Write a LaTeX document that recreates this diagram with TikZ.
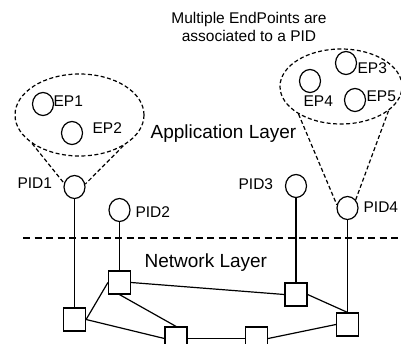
\documentclass[tikz,border=0pt]{standalone}
\usepackage{fontspec}
\setmainfont{Liberation Sans}
\usetikzlibrary{shapes.geometric}
\begin{document}
\begin{tikzpicture}[x=1pt,y=-1pt,
  line width=1.2pt,
  lbl/.style={inner sep=0pt,anchor=base west,font=\fontsize{15.5}{18}\selectfont},
  big/.style={inner sep=0pt,anchor=base west,font=\fontsize{19}{22}\selectfont},
  ep/.style={draw,ellipse,inner sep=0pt,minimum width=21pt,minimum height=23pt},
  router/.style={draw,rectangle,inner sep=0pt,minimum width=22pt,minimum height=23pt},
  group/.style={draw,ellipse,inner sep=0pt,dash pattern=on 4pt off 2.5pt},
  tie/.style={dash pattern=on 4pt off 2.5pt},
  layer/.style={dash pattern=on 7pt off 4.5pt}]
\useasboundingbox (0,0) rectangle (401,343);

% endpoint groups
\node[group,minimum width=129pt,minimum height=82pt] (G1) at (79.5,115) {};
\node[group,minimum width=122pt,minimum height=75pt] (G2) at (341,86.5) {};

% endpoints
\node[ep] (EP1) at (43,104) {};
\node[ep] (EP2) at (72,133) {};
\node[ep] (EP3) at (346,63) {};
\node[ep] (EP4) at (310,81) {};
\node[ep] (EP5) at (355,100) {};
\node[lbl] (tEP1) at (53,106) {EP1};
\node[lbl] (tEP2) at (92,133) {EP2};
\node[lbl] (tEP3) at (357,73) {EP3};
\node[lbl] (tEP4) at (303,106) {EP4};
\node[lbl] (tEP5) at (366,101.5) {EP5};

% PIDs
\node[ep] (PID1) at (74.5,187) {};
\node[ep] (PID2) at (119.5,210) {};
\node[ep] (PID3) at (296,186) {};
\node[ep] (PID4) at (347.5,208) {};
\node[lbl] (tPID1) at (17,188) {PID1};
\node[lbl] (tPID2) at (135,217) {PID2};
\node[lbl] (tPID3) at (238,189) {PID3};
\node[lbl] (tPID4) at (363,212) {PID4};

% groups tied to their PID
\draw[tie] (G1.211) -- (PID1.160);
\draw[tie] (G1.325) -- (PID1.15);
\draw[tie] (G2.213) -- (PID4.163);
\draw[tie] (G2.333) -- (PID4.45);

% caption and layer names
\node[inner sep=0pt,anchor=base,align=center,font=\fontsize{15.5}{18.5}\selectfont] (note) at (249,41.5) {Multiple EndPoints are\\associated to a PID};
\node[big] (app) at (150,138) {Application Layer};
\node[big] (net) at (144,267) {Network Layer};

% layer boundary
\coordinate (bl) at (23,238);
\coordinate (br) at (402,238);
\draw[layer] (bl) -- (br);

% routers
\node[router] (SL) at (74.5,319.5) {};
\node[router] (SM) at (119.5,282.5) {};
\node[router] (SR1) at (296,294.5) {};
\node[router] (SR2) at (347.5,324.5) {};
\node[router] (SB1) at (176,338.5) {};
\node[router] (SB2) at (256.5,338.5) {};

% PID attachments
\draw (PID1.south) -- (SL.north);
\draw (PID2.south) -- (SM.north);
\draw (PID3.south) -- (SR1.north);
\draw (PID4.south) -- (SR2.north);

% network links
\draw (SL.east) -- (SM.west);
\draw (SL.east) -- (SB1.west);
\draw (SM.south) -- (SB1.north);
\draw (SM.east) -- (SR1.west);
\draw (SR1.east) -- (SR2.north);
\draw (SR2.west) -- (SB2.east);
\draw (SB1.east) -- (SB2.west);
\end{tikzpicture}
\end{document}
